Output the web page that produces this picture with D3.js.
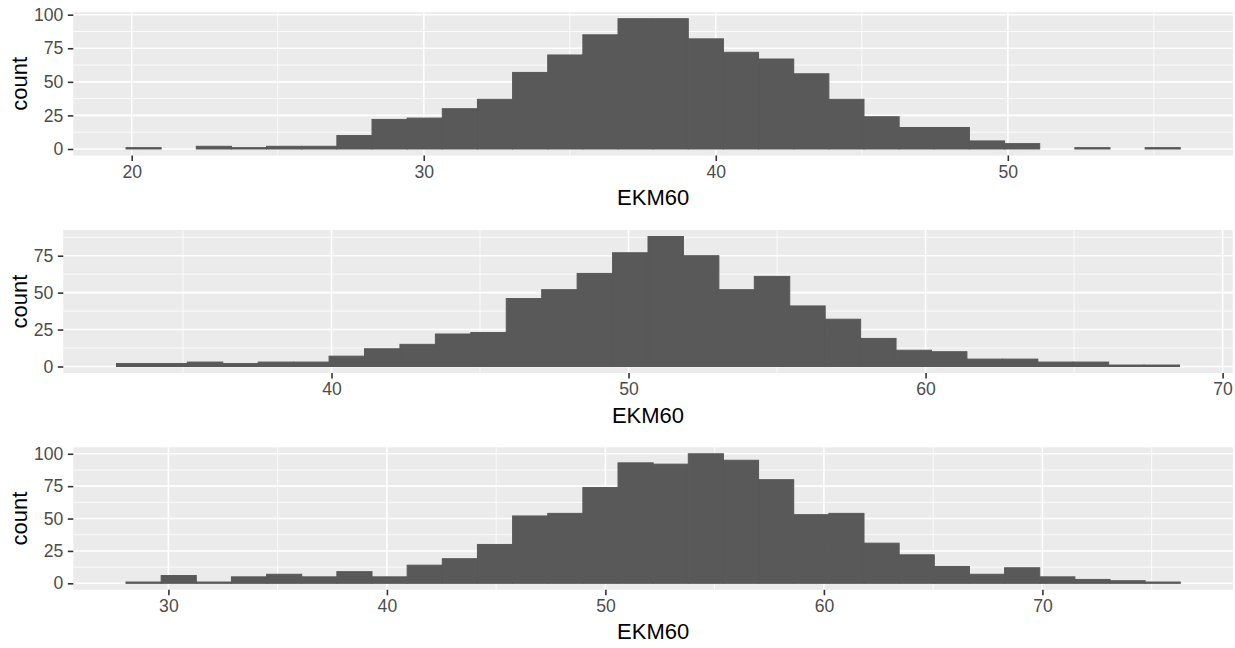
<!DOCTYPE html>
<html>
<head>
<meta charset="utf-8">
<script src="https://cdn.jsdelivr.net/npm/d3@7"></script>
<style>
  html, body { margin: 0; padding: 0; background: #ffffff; }
  svg { display: block; }
</style>
</head>
<body>
<svg id="chart" width="1235" height="648"></svg>
<script>
// ---------- data ----------
const xLabel = "EKM60";
const yLabel = "count";

// Panel 1
const range1 = [19.805, 55.905];
const counts1 = [1, 0, 2, 1, 2, 2, 10, 22, 23, 30, 37, 57, 70, 85, 97, 97, 82, 72, 67, 56, 37, 24, 16, 16, 6, 4, 0, 1, 0, 1];
const xTicks1 = [20, 30, 40, 50];
const yTicks1 = [0, 25, 50, 75, 100];

// Panel 2
const range2 = [32.76, 68.55];
const counts2 = [2, 2, 3, 2, 3, 3, 7, 12, 15, 22, 23, 46, 52, 63, 77, 88, 75, 52, 61, 41, 32, 19, 11, 10, 5, 5, 3, 3, 1, 1];
const xTicks2 = [40, 50, 60, 70];
const yTicks2 = [0, 25, 50, 75];

// Panel 3
const range3 = [28.06, 76.31];
const counts3 = [1, 6, 1, 5, 7, 5, 9, 5, 14, 19, 30, 52, 54, 74, 93, 92, 100, 95, 80, 53, 54, 31, 22, 13, 7, 12, 5, 3, 2, 1];
const xTicks3 = [30, 40, 50, 60, 70];
const yTicks3 = [0, 25, 50, 75, 100];

// ---------- layout ----------
const panels = [
  { range: range1, counts: counts1, xTicks: xTicks1, yTicks: yTicks1, box: { left: 73.3, right: 1233, top: 12.2, bottom: 155.5 } },
  { range: range2, counts: counts2, xTicks: xTicks2, yTicks: yTicks2, box: { left: 63.3, right: 1232.7, top: 230, bottom: 373 } },
  { range: range3, counts: counts3, xTicks: xTicks3, yTicks: yTicks3, box: { left: 73.3, right: 1233, top: 447.3, bottom: 589.8 } }
];

const svg = d3.select("#chart");
const FONT = "'Liberation Sans', Arial, sans-serif";
const TICK_FS = "17.6px";
const TITLE_FS = "22px";
const TICK_LEN = 5.5;
const TICK_PAD = 4.4;

panels.forEach(p => {
  const b = p.box;
  const [lo, hi] = p.range;
  const n = p.counts.length;
  const bw = (hi - lo) / n;
  const bins = p.counts.map((c, i) => ({ x0: lo + i * bw, x1: lo + (i + 1) * bw, count: c }));

  const span = hi - lo;
  const x = d3.scaleLinear().domain([lo - 0.05 * span, hi + 0.05 * span]).range([b.left, b.right]);
  const ymax = d3.max(p.counts);
  const y = d3.scaleLinear().domain([-0.05 * ymax, ymax * 1.05]).range([b.bottom, b.top]);

  const g = svg.append("g");

  // panel background
  g.append("rect")
    .attr("x", b.left).attr("y", b.top)
    .attr("width", b.right - b.left).attr("height", b.bottom - b.top)
    .attr("fill", "#EBEBEB");

  // minor gridlines
  const xd = x.domain(), yd = y.domain();
  const xMinor = [];
  const xStep = p.xTicks[1] - p.xTicks[0];
  for (let v = p.xTicks[0] - xStep / 2; v <= xd[1]; v += xStep) if (v >= xd[0]) xMinor.push(v);
  const yMinor = [];
  const yStep = p.yTicks[1] - p.yTicks[0];
  for (let v = p.yTicks[0] - yStep / 2; v <= yd[1]; v += yStep) if (v >= yd[0]) yMinor.push(v);

  g.selectAll(".xminor").data(xMinor).enter().append("line")
    .attr("x1", d => x(d)).attr("x2", d => x(d))
    .attr("y1", b.top).attr("y2", b.bottom)
    .attr("stroke", "#ffffff").attr("stroke-width", 0.8);
  g.selectAll(".yminor").data(yMinor).enter().append("line")
    .attr("x1", b.left).attr("x2", b.right)
    .attr("y1", d => y(d)).attr("y2", d => y(d))
    .attr("stroke", "#ffffff").attr("stroke-width", 0.8);

  // major gridlines
  g.selectAll(".xmajor").data(p.xTicks).enter().append("line")
    .attr("x1", d => x(d)).attr("x2", d => x(d))
    .attr("y1", b.top).attr("y2", b.bottom)
    .attr("stroke", "#ffffff").attr("stroke-width", 1.6);
  g.selectAll(".ymajor").data(p.yTicks).enter().append("line")
    .attr("x1", b.left).attr("x2", b.right)
    .attr("y1", d => y(d)).attr("y2", d => y(d))
    .attr("stroke", "#ffffff").attr("stroke-width", 1.6);

  // bars
  g.selectAll(".bar").data(bins.filter(d => d.count > 0)).enter().append("rect")
    .attr("x", d => x(d.x0))
    .attr("width", d => x(d.x1) - x(d.x0))
    .attr("y", d => y(d.count))
    .attr("height", d => Math.max(0, y(0) - y(d.count)))
    .attr("fill", "#595959")
    .attr("stroke", "#595959").attr("stroke-width", 1);

  // x axis
  const xAxis = d3.axisBottom(x).tickValues(p.xTicks).tickSize(TICK_LEN).tickPadding(TICK_PAD).tickFormat(d3.format("d"));
  const xg = g.append("g").attr("transform", `translate(0,${b.bottom})`).call(xAxis);
  xg.select(".domain").remove();
  xg.selectAll(".tick line").attr("stroke", "#333333").attr("stroke-width", 1.6);
  xg.selectAll(".tick text").attr("fill", "#4D4D4D").style("font-family", FONT).style("font-size", TICK_FS);

  // y axis
  const yAxis = d3.axisLeft(y).tickValues(p.yTicks).tickSize(TICK_LEN).tickPadding(TICK_PAD).tickFormat(d3.format("d"));
  const yg = g.append("g").attr("transform", `translate(${b.left},0)`).call(yAxis);
  yg.select(".domain").remove();
  yg.selectAll(".tick line").attr("stroke", "#333333").attr("stroke-width", 1.6);
  yg.selectAll(".tick text").attr("fill", "#4D4D4D").style("font-family", FONT).style("font-size", TICK_FS);

  // axis titles
  g.append("text")
    .attr("x", (b.left + b.right) / 2)
    .attr("y", b.bottom + 49.5)
    .attr("text-anchor", "middle")
    .style("font-family", FONT).style("font-size", TITLE_FS)
    .attr("fill", "#000000")
    .text(xLabel);

  g.append("text")
    .attr("transform", `translate(27,${(b.top + b.bottom) / 2}) rotate(-90)`)
    .attr("text-anchor", "middle")
    .style("font-family", FONT).style("font-size", TITLE_FS)
    .attr("fill", "#000000")
    .text(yLabel);
});
</script>
</body>
</html>
